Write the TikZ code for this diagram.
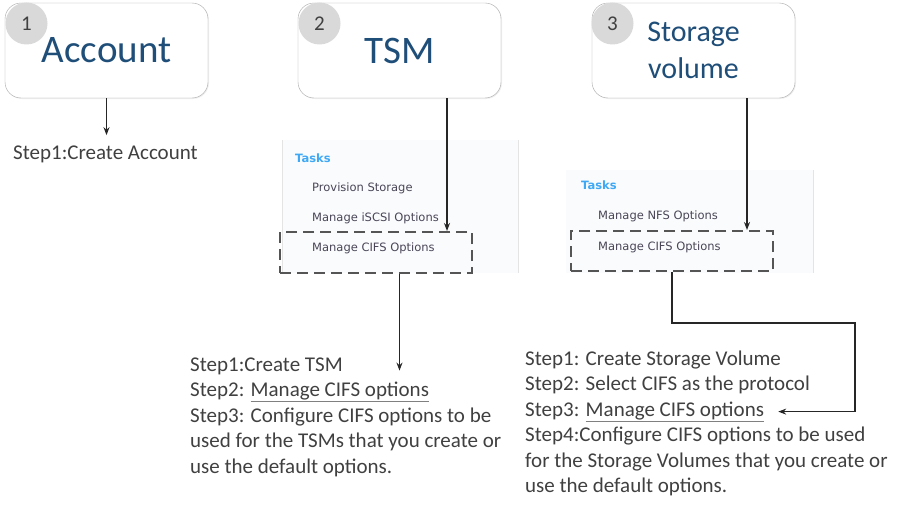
\documentclass[tikz,border=0pt]{standalone}
\usepackage{fontspec}
\setmainfont{Carlito}
\newfontfamily\panelfont{DejaVu Sans}
\usepackage{xcolor}
\definecolor{HeadBlue}{HTML}{1F4E79}
\definecolor{BoxGray}{HTML}{A6A6A6}
\definecolor{DotGray}{HTML}{D9D9D9}
\definecolor{StepGray}{HTML}{404040}
\definecolor{LineGray}{HTML}{808080}
\definecolor{TaskBlue}{HTML}{3FA9F5}
\definecolor{TaskText}{HTML}{4A4658}
\definecolor{DashGray}{HTML}{555555}
\definecolor{PanelLine}{HTML}{E4E4E4}
\definecolor{PanelFill}{HTML}{FAFBFC}
\usetikzlibrary{arrows.meta, positioning, calc, shadows}
\newcommand{\cifsopt}{\textcolor{LineGray}{\underline{\textcolor{StepGray}{Manage CIFS options}}}}
\tikzset{
  % Box styles
  headbox/.style={rectangle, rounded corners=16pt, draw=BoxGray, fill=white, minimum width=203pt, minimum height=95pt, text=HeadBlue, align=center, font=\fontsize{39}{40}\selectfont, drop shadow={shadow xshift=1pt, shadow yshift=-1pt, opacity=0.12}},
  numdot/.style={circle, fill=DotGray, minimum size=42pt, inner sep=0pt, text=StepGray, font=\fontsize{21}{21}\selectfont},
  cifsbox/.style={rectangle, draw=DashGray, line width=2pt, dash pattern=on 11pt off 6pt},
  % Text styles
  tasktitle/.style={anchor=west, inner sep=0pt, text=TaskBlue, font=\panelfont\bfseries\fontsize{11.5}{12}\selectfont},
  taskitem/.style={anchor=west, inner sep=0pt, text=TaskText, font=\panelfont\fontsize{11.5}{12}\selectfont},
  steptext/.style={anchor=base west, inner sep=0pt, text=StepGray, font=\fontsize{21}{24}\selectfont},
  % Arrow styles
  link/.style={-{Stealth[length=8pt, width=6pt]}, line width=1.4pt, draw=black!85}
}
\begin{document}
\begin{tikzpicture}[x=1pt, y=-1pt]
  \useasboundingbox (0,0) rectangle (912,511);

  % Task panels
  \fill[PanelFill] (282,140) rectangle (518,273);
  \draw[PanelLine] (282,140) -- (282,273);
  \draw[PanelLine] (518,140) -- (518,273);
  \fill[PanelFill] (566,170) rectangle (813,273);
  \draw[PanelLine, line width=1pt] (813,170) -- (813,273);

  % Head boxes
  \node[headbox] (acct) at (106.5,50.5) {Account};
  \node[headbox] (tsm) at (399.5,50.5) {TSM};
  \node[headbox, font=\fontsize{30}{37}\selectfont] (svol) at (693.5,50.5) {Storage\\volume};
  \node[numdot] (dot1) at (26.5,23.5) {1};
  \node[numdot] (dot2) at (319.5,23.5) {2};
  \node[numdot] (dot3) at (612.5,23.5) {3};

  % Task lists
  \node[tasktitle] (tasks2) at (295,158) {Tasks};
  \node[taskitem] (prov) at (312,188) {Provision Storage};
  \node[taskitem] (iscsi) at (312,218) {Manage iSCSI Options};
  \node[taskitem] (cifsitem2) at (312,248) {Manage CIFS Options};
  \node[cifsbox, minimum width=192pt, minimum height=41pt] (cifs2) at (376,252.5) {};

  \node[tasktitle] (tasks3) at (581,185) {Tasks};
  \node[taskitem] (nfs) at (598,216) {Manage NFS Options};
  \node[taskitem] (cifsitem3) at (598,247) {Manage CIFS Options};
  \node[cifsbox, minimum width=202pt, minimum height=40pt] (cifs3) at (672,251) {};

  % Steps
  \node[steptext] (acctstep) at (13,159) {Step1:Create Account};
  \foreach \ln [count=\i] in {Step1:Create TSM, Step2: \cifsopt, Step3: Configure CIFS options to be, used for the TSMs that you create or, use the default options.}
    \node[steptext] (tsmstep\i) at (190,345.5+25.5*\i) {\ln};
  \foreach \ln [count=\i] in {Step1: Create Storage Volume, Step2: Select CIFS as the protocol, Step3: \cifsopt, Step4:Configure CIFS options to be used, for the Storage Volumes that you create or, use the default options.}
    \node[steptext] (svstep\i) at (525,339.5+25.5*\i) {\ln};

  % Connectors
  \draw[link, shorten >=10pt] (acct.south) -- (acct.south |- acctstep.north);

  \coordinate (tsmdrop) at ($(tsm.south)+(47.5,0)$);
  \draw[link] (tsmdrop) -- (tsmdrop |- cifs2.north);
  \draw[link, shorten >=4pt] (cifs2.south -| tsm.south) -- (tsm.south |- tsmstep1.south);

  \coordinate (svdrop) at ($(svol.south)+(53.5,0)$);
  \draw[link] (svdrop) -- (svdrop |- cifs3.north);
  \coordinate (bend) at (855,323);
  \draw[link] (cifs3.south) |- (bend) |- ([xshift=14pt, yshift=2pt]svstep3.mid east);
\end{tikzpicture}
\end{document}
